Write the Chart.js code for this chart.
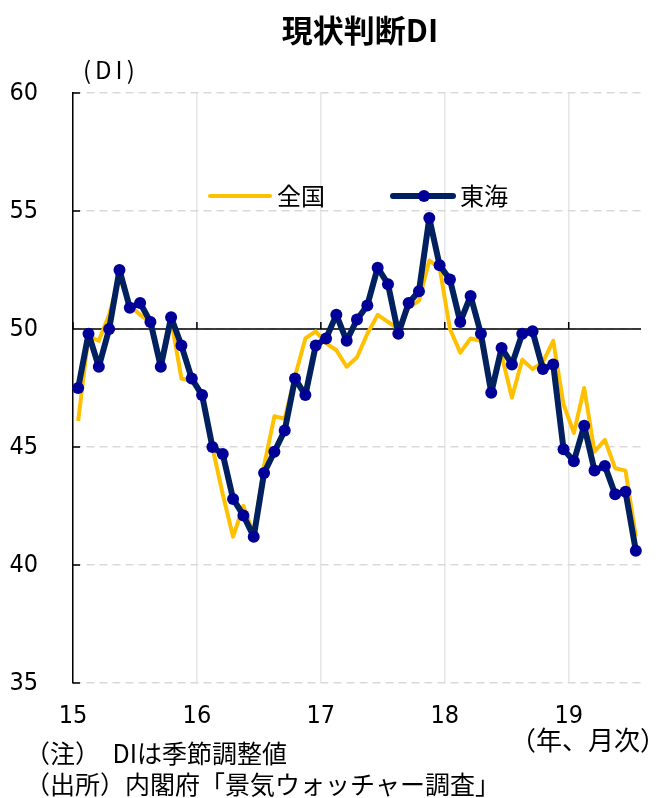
<!DOCTYPE html>
<html lang="ja">
<head>
<meta charset="utf-8">
<title>現状判断DI</title>
<script src="https://cdn.jsdelivr.net/npm/chart.js@4.4.1/dist/chart.umd.min.js"></script>
<style>
  html, body { margin: 0; padding: 0; background: #fff; }
  #chart { display: block; }
</style>
</head>
<body>
<canvas id="chart" width="656" height="798"></canvas>
<script>
// 2015年1月〜2019年7月（月次、季節調整値）
const yearLabels = ['15', '16', '17', '18', '19'];
const yearStarts = [0, 12, 24, 36, 48];
const monthCount = 55;

const nationalDI = [
  46.1, 49.7, 49.5, 50.6, 52.2, 51.0, 50.6, 50.3, 48.5, 50.4, 47.9, 47.8,
  47.2, 45.0, 43.0, 41.2, 42.5, 41.3, 44.2, 46.3, 46.2, 48.0, 49.6, 49.9,
  49.4, 49.1, 48.4, 48.8, 49.8, 50.6, 50.3, 50.0, 50.9, 51.2, 52.9, 52.6,
  50.0, 49.0, 49.6, 49.5, 47.5, 48.9, 47.1, 48.7, 48.3, 48.6, 49.5, 46.8,
  45.6, 47.5, 44.8, 45.3, 44.1, 44.0, 41.2
];
const tokaiDI = [
  47.5, 49.8, 48.4, 50.0, 52.5, 50.9, 51.1, 50.3, 48.4, 50.5, 49.3, 47.9,
  47.2, 45.0, 44.7, 42.8, 42.1, 41.2, 43.9, 44.8, 45.7, 47.9, 47.2, 49.3,
  49.6, 50.6, 49.5, 50.4, 51.0, 52.6, 51.9, 49.8, 51.1, 51.6, 54.7, 52.7,
  52.1, 50.3, 51.4, 49.8, 47.3, 49.2, 48.5, 49.8, 49.9, 48.3, 48.5, 44.9,
  44.4, 45.9, 44.0, 44.2, 43.0, 43.1, 40.6
];
const yTicks = [35, 40, 45, 50, 55, 60];

const JP = "'Noto Sans CJK JP', sans-serif";
const NUM = "'Liberation Sans Narrow', 'DejaVu Sans Condensed', 'Noto Sans CJK JP', sans-serif";

const toPoints = arr => arr.map((v, i) => ({ x: i + 0.5, y: v }));

const decorations = {
  id: 'decorations',
  beforeDatasetsDraw(chart) {
    const { ctx, chartArea: area, scales: { x, y } } = chart;
    const y50 = y.getPixelForValue(50);
    ctx.save();
    ctx.strokeStyle = '#000';
    ctx.lineWidth = 1.5;
    ctx.beginPath();
    ctx.moveTo(area.left, y50);
    ctx.lineTo(area.right, y50);
    // inward ticks
    yTicks.forEach(v => {
      const py = y.getPixelForValue(v);
      ctx.moveTo(area.left, py);
      ctx.lineTo(area.left + 7, py);
    });
    yearStarts.forEach(m => {
      const px = x.getPixelForValue(m);
      ctx.moveTo(px, y50);
      ctx.lineTo(px, y50 - 7);
    });
    ctx.stroke();
    ctx.restore();
  },
  afterDraw(chart) {
    const { ctx } = chart;
    ctx.save();
    ctx.fillStyle = '#000';
    ctx.textBaseline = 'middle';

    ctx.font = `bold 31px ${JP}`;
    ctx.textAlign = 'center';
    ctx.fillText('現状判断DI', 360, 30);

    ctx.textAlign = 'left';
    ctx.font = `24px ${JP}`;
    ctx.letterSpacing = '4px';
    ctx.fillText('(DI)', 83, 70);
    ctx.letterSpacing = '0px';

    // legend
    const legendItems = [
      { ds: chart.data.datasets[0], x: 210 },
      { ds: chart.data.datasets[1], x: 393 }
    ];
    legendItems.forEach(({ ds, x }) => {
      ctx.strokeStyle = ds.borderColor;
      ctx.lineWidth = ds.borderWidth;
      ctx.lineCap = 'round';
      ctx.beginPath();
      ctx.moveTo(x, 196);
      ctx.lineTo(x + 60, 196);
      ctx.stroke();
      if (ds.pointRadius > 0) {
        ctx.fillStyle = ds.pointBackgroundColor;
        ctx.beginPath();
        ctx.arc(x + 31, 196, ds.pointRadius, 0, Math.PI * 2);
        ctx.fill();
      }
      ctx.fillStyle = '#000';
      ctx.font = `24px ${JP}`;
      ctx.fillText(ds.label, x + 67, 196);
    });

    ctx.font = `26px ${JP}`;
    ctx.fillText('（年、月次）', 510, 740);

    ctx.font = `25px ${JP}`;
    ctx.fillText('（注）　DIは季節調整値', 25, 753);
    ctx.fillText('（出所）内閣府「景気ウォッチャー調査」', 25, 784);
    ctx.restore();
  }
};

new Chart(document.getElementById('chart'), {
  type: 'line',
  data: {
    datasets: [
      {
        label: '全国',
        data: toPoints(nationalDI),
        borderColor: '#FFC000',
        borderWidth: 4,
        borderJoinStyle: 'round',
        pointRadius: 0,
        tension: 0,
        order: 2
      },
      {
        label: '東海',
        data: toPoints(tokaiDI),
        borderColor: '#002060',
        borderWidth: 6,
        borderJoinStyle: 'round',
        pointRadius: 6,
        pointHoverRadius: 6,
        pointBackgroundColor: '#000099',
        pointBorderWidth: 0,
        tension: 0,
        order: 1
      }
    ]
  },
  options: {
    responsive: false,
    animation: false,
    devicePixelRatio: 1,
    clip: false,
    layout: { padding: { top: 93, right: 15, bottom: 55, left: 0 } },
    plugins: {
      legend: { display: false },
      title: { display: false },
      tooltip: { enabled: false }
    },
    scales: {
      x: {
        type: 'linear',
        min: 0,
        max: monthCount,
        afterBuildTicks: scale => { scale.ticks = yearStarts.map(v => ({ value: v })); },
        afterFit: scale => { scale.height = 60; },
        ticks: {
          autoSkip: false,
          maxRotation: 0,
          padding: 18,
          color: '#000',
          font: { family: NUM, size: 25 },
          callback: value => yearLabels[yearStarts.indexOf(value)]
        },
        grid: { color: '#e6e6e6', lineWidth: 1.5, drawTicks: false },
        border: { display: false }
      },
      y: {
        min: 35,
        max: 60,
        afterBuildTicks: scale => { scale.ticks = yTicks.map(v => ({ value: v })); },
        afterFit: scale => { scale.width = 73; },
        ticks: {
          padding: 35,
          color: '#000',
          font: { family: NUM, size: 25 }
        },
        grid: { color: '#d9d9d9', lineWidth: 1.5, drawTicks: false },
        border: { display: true, color: '#000', width: 1.5, dash: [8, 5] }
      }
    }
  },
  plugins: [decorations]
});
</script>
</body>
</html>
